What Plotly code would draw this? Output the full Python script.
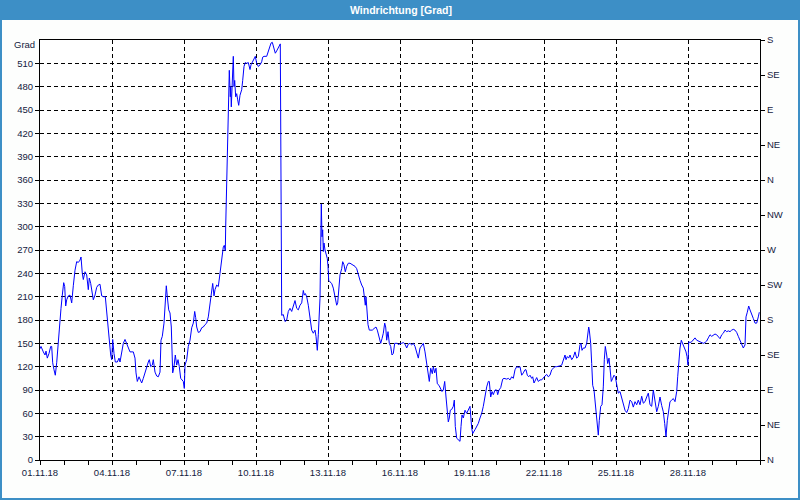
import plotly.graph_objects as go
import pandas as pd

# ---- data (hours since 01.11.2018 00:00, wind direction in degrees) ----
hours = [
    0, 1, 3.3, 5, 6, 7.3, 9, 10.7, 11.7, 12.7, 14, 15.3, 16.7, 18.3, 20, 21, 22.3, 23.7, 24.7, 25.7,
    26.7, 28.3, 30, 31.7, 33.3, 35, 36.7, 38.3, 40, 41, 42.3, 43.3, 45, 46.7, 48.3, 49.3, 50.7, 52.3,
    53.3, 55, 56.7, 58.3, 60, 61.7, 63.3, 65.3, 66.7, 68, 69.3, 70.7, 71.7, 72.7, 74, 75.3, 77.3, 79,
    80, 81.7, 83.3, 85, 86.7, 88.3, 90, 93.3, 95, 96, 97.3, 99, 100.3, 101.7, 103.3, 105, 106.7, 108.3,
    109.3, 110.7, 112.3, 113.3, 115, 116.7, 118.3, 120, 121, 122.3, 124, 125.3, 126.3, 127.3, 128.7,
    130, 131.3, 132.7, 134, 135.3, 136.7, 138, 139.3, 140.7, 142, 143.3, 144.3, 145, 146.7, 148.3,
    150, 151.7, 153.3, 154.7, 155.7, 156.7, 158.3, 160, 161.7, 163.3, 165, 166.7, 168.3, 170, 171.7,
    172.7, 174, 175, 176.7, 178.3, 180, 181.7, 183.3, 184.3, 185.3, 185.7, 186.7, 187.7, 188.7, 189.3,
    190.3, 190.7, 191.3, 192.3, 193.3, 194, 194.7, 195.7, 196.7, 197.7, 198.7, 200, 201.7, 202.7, 204,
    205.3, 206.7, 208.3, 210, 211, 212.7, 214, 215.3, 216.7, 218.3, 220, 221.7, 222.7, 224, 226.7,
    228.3, 229.3, 231, 232.3, 233.3, 234.3, 235.3, 236.7, 238, 239.3, 240.3, 241.7, 243.3, 245, 246.7,
    248.3, 250, 251.7, 253.3, 255, 256.7, 258.3, 260, 261.7, 263.3, 264.3, 265.3, 266.7, 268.3, 270,
    271.7, 273.3, 275, 276, 276.7, 277.3, 278.3, 279.3, 280, 280.7, 281.3, 282, 282.7, 283.3, 284, 285,
    286, 287.3, 288, 288.7, 290, 291.7, 293.3, 295, 296.7, 297.7, 298.7, 300, 301.7, 302.7, 304, 305.3,
    306.7, 308.3, 310, 311.7, 313.3, 315, 316.7, 318.3, 320, 321.7, 323.3, 324.3, 325.3, 326, 327, 328,
    329.3, 330.7, 332.3, 334, 336, 337.3, 339, 340.7, 342, 343.3, 344.7, 345.7, 346.7, 348, 349.3,
    350.7, 352, 353.3, 354.7, 356, 357.3, 358.7, 360, 361.7, 363.3, 365, 366.7, 368.3, 370, 371.7,
    373.3, 375, 376.7, 378.3, 380, 381.7, 383.3, 385, 386.7, 388.3, 389.3, 390.7, 392.3, 393.3, 394.7,
    396, 397.3, 399, 400.7, 402, 403.3, 404.7, 406, 407.3, 408.3, 409.3, 410.3, 411.7, 413.3, 414.3,
    415.3, 416.7, 418.3, 420, 421, 422, 423.3, 425, 426.7, 428.3, 430, 431.7, 432.7, 435, 436.7,
    438.3, 440, 441.7, 443.3, 445, 446.7, 448.3, 449.3, 450.7, 452, 453.3, 455, 456.7, 457.7, 459,
    460.7, 462.7, 464, 466.7, 468.3, 470, 471.7, 473.3, 475, 476.7, 478.3, 480, 481.7, 483.3, 485,
    486, 487.3, 488.7, 490, 491.7, 492.7, 494, 495.3, 496.7, 498.3, 500, 501.7, 503.3, 505, 506.7,
    508.3, 510, 511.7, 513.3, 515, 516.7, 518.3, 520, 521.7, 523.3, 525, 526, 527.3, 528.7, 530,
    531.7, 533.3, 535, 536.7, 538.3, 540, 541, 542, 543.3, 545, 546.7, 547.7, 548.7, 549.3, 550.7,
    551.7, 552.7, 554, 555, 556, 557.3, 558.3, 559.3, 560.7, 562, 563.3, 564.3, 565.3, 566.7, 567.7,
    569, 570, 571.3, 572.7, 574, 575.3, 576.7, 578.3, 580, 581.7, 583.3, 585, 586.7, 588.3, 590,
    591.7, 593.3, 595, 596.7, 598.3, 600, 601.7, 603.3, 605, 606.7, 608.3, 610, 611.7, 613.3, 615,
    616.7, 618.3, 620, 621.7, 623.3, 624.7, 626, 627.3, 628.7, 630, 631.7, 633.3, 635, 636.7, 637.7,
    639, 640, 641.3, 642.7, 644, 645, 646, 647, 648, 648.7, 650, 651.7, 653.3, 655, 656.7, 658.3,
    660, 661.7, 663.3, 665, 666.7, 668.3, 670, 671.7, 673.3, 675, 676.7, 678.3, 680, 681.7, 683.3,
    685, 686.7, 688.3, 690, 691.7, 693.3, 695, 696.7, 698.3, 700, 701.7, 703.3, 705, 706, 707.3,
    708.7, 710, 711.7, 713.3, 715, 716.7, 718.3, 719.3,
]

direction = [
    143, 146, 139, 135, 140, 131, 137, 146, 146, 125, 116, 109, 125, 154, 176, 195, 212, 228, 223, 198,
    206, 211, 212, 202, 224, 244, 255, 254, 257, 261, 240, 232, 242, 238, 219, 234, 227, 212,
    206, 212, 222, 225, 226, 211, 210, 210, 189, 170, 154, 135, 129, 155, 137, 126, 126, 131,
    126, 137, 150, 155, 150, 146, 139, 139, 131, 112, 101, 107, 103, 99, 105, 113, 118, 126,
    129, 120, 122, 129, 113, 108, 107, 113, 154, 159, 176, 206, 224, 210, 193,
    189, 171, 112, 120, 135, 122, 129, 120, 105, 103, 101, 92, 122, 129, 146,
    154, 170, 176, 191, 183, 171, 164, 165, 170, 171, 174, 176, 184, 202, 219,
    227, 211, 219, 225, 223, 240, 260, 274, 276, 269, 300, 360, 394, 467, 501,
    467, 480, 454, 480, 519, 480, 488, 467, 471, 463, 456, 469, 476, 488, 506,
    511, 510, 511, 502, 508, 512, 516, 519, 510, 506, 508, 512, 518, 519, 519,
    525, 531, 536, 537, 532, 529, 523, 526, 529, 532, 535, 186, 187, 178, 180,
    191, 195, 191, 199, 205, 195, 193, 199, 202, 218, 212, 214, 210, 199, 180,
    167, 163, 167, 159, 150, 141, 161, 189, 208, 274, 329, 287, 296, 268, 279, 270,
    266, 259, 249, 231, 229, 227, 221, 212, 199, 202, 219, 238, 246, 255, 251, 242,
    249, 253, 253, 252, 251, 249, 246, 238, 231, 225, 221, 210, 199, 210, 189, 174,
    167, 167, 167, 169, 171, 167, 159, 150, 156, 163, 176, 171, 154, 165, 150,
    146, 135, 137, 150, 150, 150, 148, 150, 150, 151, 149, 144, 149, 150, 148,
    150, 146, 137, 131, 144, 148, 150, 139, 124, 105, 101, 118, 111, 120, 112,
    118, 98, 96, 92, 88, 90, 101, 81, 64, 49, 54, 64, 65, 69, 77,
    43, 28, 26, 24, 43, 58, 54, 64, 60, 65, 69, 41, 34, 39, 43,
    47, 54, 60, 69, 84, 94, 101, 101, 81, 88, 84, 90, 90, 84, 90,
    93, 104, 105, 104, 105, 103, 107, 105, 116, 120, 119, 120, 109, 112, 116,
    116, 109, 107, 109, 105, 107, 99, 103, 106, 101, 103, 103, 106, 108, 110,
    107, 109, 116, 118, 120, 120, 121, 121, 122, 129, 135, 129, 133, 131, 135,
    129, 132, 139, 131, 133, 148, 150, 141, 144, 144, 150, 163, 171, 167, 150,
    124, 96, 90, 77, 64, 47, 32, 51, 69, 71, 94, 129, 146, 135, 124,
    131, 120, 101, 105, 109, 107, 94, 86, 88, 79, 71, 64, 61, 66, 77,
    75, 68, 75, 71, 77, 71, 82, 73, 75, 81, 86, 71, 69, 90, 73,
    62, 69, 81, 70, 62, 47, 30, 51, 65, 75, 77, 79, 75, 88, 107,
    129, 144, 154, 150, 146, 142, 139, 133, 122, 152, 151, 152, 154, 157, 154, 153,
    152, 150, 150, 151, 153, 157, 161, 159, 161, 162, 161, 159, 156, 161, 163,
    167, 165, 166, 165, 167, 168, 167, 164, 159, 154, 150, 144, 148, 184, 190,
    198, 193, 186, 182, 176, 176, 184, 190,
]

x_tick_dates = ["2018-11-01", "2018-11-04", "2018-11-07", "2018-11-10", "2018-11-13",
                "2018-11-16", "2018-11-19", "2018-11-22", "2018-11-25", "2018-11-28"]
x_tick_labels = ["01.11.18", "04.11.18", "07.11.18", "10.11.18", "13.11.18",
                 "16.11.18", "19.11.18", "22.11.18", "25.11.18", "28.11.18"]
y_left_ticks = [0, 30, 60, 90, 120, 150, 180, 210, 240, 270, 300, 330, 360, 390, 420, 450, 480, 510]
y_right_ticks = [0, 45, 90, 135, 180, 225, 270, 315, 360, 405, 450, 495, 540]
y_right_labels = ["N", "NE", "E", "SE", "S", "SW", "W", "NW", "N", "NE", "E", "SE", "S"]
title_text = "Windrichtung [Grad]"
unit_text = "Grad"

assert len(hours) == len(direction), (len(hours), len(direction))

start = pd.Timestamp("2018-11-01 00:00")
times = [start + pd.Timedelta(hours=h) for h in hours]

# ---- layout geometry (pixels) ----
W, H = 800, 500
L, R, T, B = 40, 40, 40, 40
PW, PH = W - L - R, H - T - B


def px(x):
    return (x - L) / PW


def py(y):
    return (H - B - y) / PH


FONT = "Liberation Sans"
TXT = "#14213d"
BLUE = "#3d8fc6"

fig = go.Figure()
fig.add_trace(go.Scatter(x=times, y=direction, mode="lines",
                         line=dict(color="#0000ff", width=1), hoverinfo="x+y",
                         showlegend=False))
# anchor trace for the right compass axis (invisible)
fig.add_trace(go.Scatter(x=[times[0]], y=[0], yaxis="y2", mode="markers",
                         marker=dict(opacity=0), hoverinfo="skip", showlegend=False))

fig.update_layout(
    width=W, height=H, autosize=False,
    margin=dict(l=L, r=R, t=T, b=B, pad=0),
    paper_bgcolor="#fdfefd", plot_bgcolor="#ffffff",
    font=dict(family=FONT, size=9.5, color=TXT),
    showlegend=False,
    xaxis=dict(
        type="date", range=[start, pd.Timestamp("2018-12-01 00:00")],
        tickmode="array", tickvals=x_tick_dates, ticktext=x_tick_labels,
        ticks="outside", ticklen=4, tickcolor="#000", tickwidth=1,
        showline=True, linecolor="#000", linewidth=1, mirror=True,
        showgrid=True, gridcolor="#000", gridwidth=1, griddash="4px,3px",
        zeroline=False, tickfont=dict(family=FONT, size=9.5, color=TXT),
        minor=dict(tickmode="linear", tick0="2018-11-01", dtick=86400000,
                   ticks="outside", ticklen=4, tickcolor="#000", showgrid=False),
        fixedrange=True,
    ),
    yaxis=dict(
        range=[0, 540], tickmode="array", tickvals=y_left_ticks,
        ticks="outside", ticklen=4, tickcolor="#000",
        showline=True, linecolor="#000", linewidth=1, mirror=True,
        showgrid=True, gridcolor="#000", gridwidth=1, griddash="4px,3px",
        zeroline=False, tickfont=dict(family=FONT, size=9.5, color=TXT),
        fixedrange=True,
    ),
    yaxis2=dict(
        range=[0, 540], overlaying="y", side="right", anchor="x",
        tickmode="array", tickvals=y_right_ticks, ticktext=y_right_labels,
        ticks="outside", ticklen=4, tickcolor="#000",
        showline=True, linecolor="#000", linewidth=1,
        showgrid=False, zeroline=False,
        tickfont=dict(family=FONT, size=9.5, color=TXT),
        fixedrange=True,
    ),
    shapes=[
        dict(type="rect", xref="paper", yref="paper",
             x0=px(0), x1=px(W), y0=py(20), y1=py(0),
             fillcolor=BLUE, line=dict(width=0), layer="above"),
        dict(type="rect", xref="paper", yref="paper",
             x0=px(1), x1=px(W - 1), y0=py(H - 1), y1=py(1),
             fillcolor="rgba(0,0,0,0)", line=dict(color=BLUE, width=2), layer="above"),
    ],
    annotations=[
        dict(text=title_text, xref="paper", yref="paper", x=px(401), y=py(10),
             xanchor="center", yanchor="middle", showarrow=False,
             font=dict(family=FONT, size=10.5, color="#ffffff", weight="bold")),
        dict(text=unit_text, xref="paper", yref="paper", x=px(37), y=py(45),
             xanchor="right", yanchor="middle", showarrow=False,
             font=dict(family=FONT, size=9.5, color=TXT)),
    ],
)

fig.write_html(
    "out.html",
    config={"displayModeBar": False},
    post_script="document.body.style.margin='0';document.body.style.padding='0';"
                "document.body.style.overflow='hidden';",
)
